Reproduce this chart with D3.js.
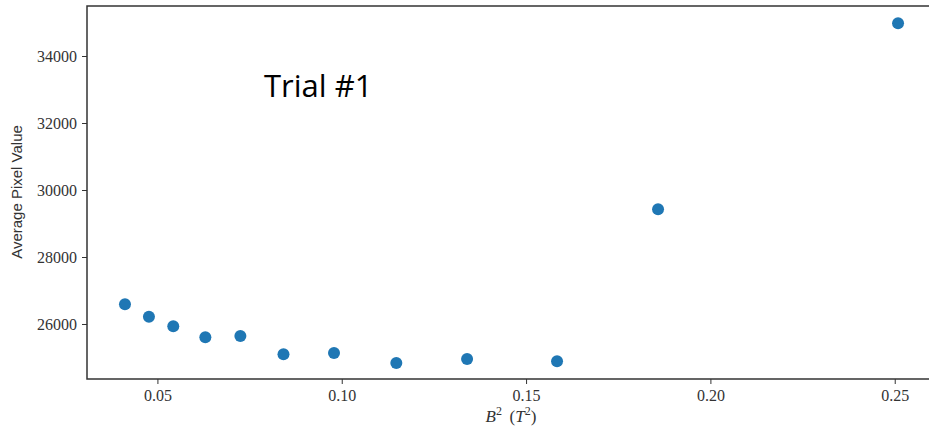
<!DOCTYPE html>
<html lang="en">
<head>
    <meta charset="UTF-8">
    <script src="https://d3js.org/d3.v7.min.js"></script>
    <title>Trial #1</title>
    <style>
    body { margin: 0; background: white; }
    </style>
</head>
<body>
    <div class="content"></div>
    <script>
    // B^2 (T^2) vs average pixel value
    var bSquared = [0.0412, 0.0477, 0.0543, 0.0630, 0.0725, 0.0842, 0.0979, 0.1148, 0.1340, 0.1584, 0.1858, 0.2509];
    var pixelValue = [26588, 26218, 25931, 25603, 25642, 25096, 25134, 24836, 24955, 24887, 29424, 34976];
    var xTicks = [0.05, 0.10, 0.15, 0.20, 0.25];
    var yTicks = [26000, 28000, 30000, 32000, 34000];

    var p = {
        width: 929,
        height: 430,
        left: 87,
        top: 6,
        bottom: 379,
        right: 931.6
    };

    var svg = d3.select(".content")
        .append("svg")
        .attr("width", p.width)
        .attr("height", p.height);

    var x = d3.scaleLinear().domain([0.0309, 0.26]).range([p.left, p.right]);
    var y = d3.scaleLinear().domain([24358, 35493]).range([p.bottom, p.top]);

    // truc x
    var gx = svg.append("g")
        .attr("transform", "translate(0," + p.bottom + ")")
        .call(d3.axisBottom(x).tickValues(xTicks).tickFormat(d3.format(".2f")).tickSizeOuter(0).tickSize(5).tickPadding(6));

    // truc y
    var gy = svg.append("g")
        .attr("transform", "translate(" + p.left + ",0)")
        .call(d3.axisLeft(y).tickValues(yTicks).tickFormat(d3.format("d")).tickSizeOuter(0).tickSize(5).tickPadding(5));

    svg.selectAll(".domain").remove();
    svg.selectAll(".tick line").attr("stroke", "#333");
    svg.selectAll(".tick text")
        .attr("font-family", "Liberation Serif")
        .attr("font-size", 16)
        .attr("fill", "#333");

    // vien khung
    svg.append("path")
        .attr("d", "M" + p.width + "," + p.top + "H" + p.left + "V" + p.bottom + "H" + p.width)
        .attr("fill", "none")
        .attr("stroke", "#333")
        .attr("stroke-width", 1.5);

    // cac diem
    svg.selectAll("circle.pt")
        .data(bSquared)
        .enter()
        .append("circle")
        .attr("class", "pt")
        .attr("cx", function(d) { return x(d); })
        .attr("cy", function(d, i) { return y(pixelValue[i]); })
        .attr("r", 6)
        .attr("fill", "#1f77b4");

    // nhan truc
    var xl = svg.append("text")
        .attr("x", 511)
        .attr("y", 422)
        .attr("text-anchor", "middle")
        .attr("font-family", "Liberation Serif")
        .attr("font-size", 17)
        .attr("fill", "#333");
    xl.append("tspan").attr("font-style", "italic").text("B");
    xl.append("tspan").attr("dy", -7).attr("font-size", 12).text("2");
    xl.append("tspan").attr("dy", 7).text("\u2009 (");
    xl.append("tspan").attr("font-style", "italic").text("T");
    xl.append("tspan").attr("dy", -7).attr("font-size", 12).text("2");
    xl.append("tspan").attr("dy", 7).text(")");

    svg.append("text")
        .attr("transform", "translate(22,192) rotate(-90)")
        .attr("text-anchor", "middle")
        .attr("font-family", "Liberation Sans")
        .attr("font-size", 15)
        .attr("fill", "#333")
        .text("Average Pixel Value");

    svg.append("text")
        .attr("x", 264)
        .attr("y", 97)
        .attr("font-family", "Open Sans")
        .attr("font-size", 31)
        .attr("fill", "#000")
        .text("Trial #1");
    </script>
</body>
</html>
